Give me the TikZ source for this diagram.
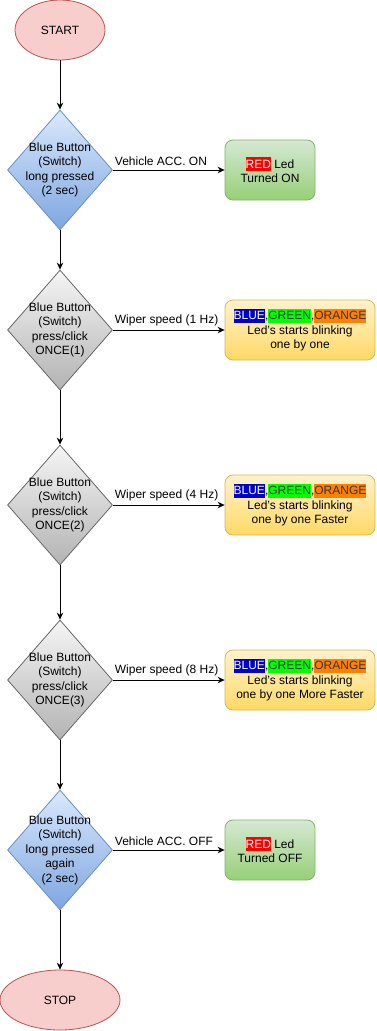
\documentclass[tikz,border=0pt]{standalone}
\usepackage{fontspec}
\setmainfont{Liberation Sans}
\usetikzlibrary{shapes.geometric,arrows.meta}
\definecolor{termfill}{HTML}{F8CECC}
\definecolor{termline}{HTML}{B85450}
\definecolor{bluetop}{HTML}{DAE8FC}
\definecolor{bluebot}{HTML}{7EA6E0}
\definecolor{blueline}{HTML}{6C8EBF}
\definecolor{graytop}{HTML}{F5F5F5}
\definecolor{graybot}{HTML}{B3B3B3}
\definecolor{grayline}{HTML}{666666}
\definecolor{greentop}{HTML}{D5E8D4}
\definecolor{greenbot}{HTML}{97D077}
\definecolor{greenline}{HTML}{82B366}
\definecolor{yellowtop}{HTML}{FFF2CC}
\definecolor{yellowbot}{HTML}{FFD966}
\definecolor{yellowline}{HTML}{D6B656}
\definecolor{hlred}{HTML}{FF0000}
\definecolor{hlblue}{HTML}{0000CC}
\definecolor{hlgreen}{HTML}{00FF00}
\definecolor{hlorange}{HTML}{FF8000}
\newcommand{\hl}[3]{{\setlength{\fboxsep}{0pt}\colorbox{#1}{\rule[-3pt]{0pt}{14pt}\textcolor{#2}{#3}}}}
\newcommand{\leds}{\hl{hlblue}{white}{BLUE},\hl{hlgreen}{black!80}{GREEN},\hl{hlorange}{black!80}{ORANGE}}
\begin{document}
\begin{tikzpicture}[x=1pt,y=-1pt,font=\fontsize{12}{14.5}\selectfont,line width=0.8pt,
  >={Stealth[length=7pt,width=6.5pt]},
  term/.style={ellipse,draw=termline,fill=termfill,minimum height=60pt,inner sep=0pt},
  bluecond/.style={diamond,draw=blueline,top color=bluetop,bottom color=bluebot,minimum width=105pt,minimum height=120pt,inner sep=0pt},
  graycond/.style={diamond,draw=grayline,top color=graytop,bottom color=graybot,minimum width=105pt,minimum height=120pt,inner sep=0pt},
  greenbox/.style={rectangle,rounded corners=8pt,draw=greenline,top color=greentop,bottom color=greenbot,minimum width=90pt,minimum height=60pt,align=center},
  yellowbox/.style={rectangle,rounded corners=8pt,draw=yellowline,top color=yellowtop,bottom color=yellowbot,minimum width=150pt,minimum height=60pt,align=center,inner sep=0pt},
  txt/.style={align=center,inner sep=0pt},
  lbl/.style={pos=0,anchor=south west,inner sep=0pt,xshift=1.5pt,yshift=4pt}]
\useasboundingbox (0,0) rectangle (376,1031);

\node[term,minimum width=90pt] (0) at (60,30) {START};

\node[bluecond] (1) at (60,170) {};
\node[txt] (1t) at (1) {Blue Button\\(Switch)\\long pressed\\(2 sec)};
\node[greenbox] (6) at (270,170) {\hl{hlred}{white}{RED} Led\\Turned ON};

\node[graycond] (2) at (60,330) {};
\node[txt] (2t) at (2) {Blue Button\\(Switch)\\press/click\\ONCE(1)};
\node[yellowbox] (7) at (300,330) {\leds\\Led's starts blinking\\one by one};

\node[graycond] (3) at (60,505) {};
\node[txt] (3t) at (3) {Blue Button\\(Switch)\\press/click\\ONCE(2)};
\node[yellowbox] (8) at (300,505) {\leds\\Led's starts blinking\\one by one Faster};

\node[graycond] (4) at (60,680) {};
\node[txt] (4t) at (4) {Blue Button\\(Switch)\\press/click\\ONCE(3)};
\node[yellowbox] (9) at (300,680) {\leds\\Led's starts blinking\\one by one More Faster};

\node[bluecond] (5) at (60,850) {};
\node[txt] (5t) at (5) {Blue Button\\(Switch)\\long pressed\\again\\(2 sec)};
\node[greenbox] (10) at (270,850) {\hl{hlred}{white}{RED} Led\\Turned OFF};

\node[term,minimum width=120pt] (11) at (60,1000) {STOP};

\draw[->,line width=1pt] (0)--(1);
\draw[->,line width=1pt] (1)--(2);
\draw[->,line width=1pt] (2)--(3);
\draw[->,line width=1pt] (3)--(4);
\draw[->,line width=1pt] (4)--(5);
\draw[->,line width=1pt] (5)--(11);

\draw[->,line width=1pt] (1)-- node[lbl]{Vehicle ACC. ON} (6);
\draw[->,line width=1pt] (2)-- node[lbl]{Wiper speed (1 Hz)} (7);
\draw[->,line width=1pt] (3)-- node[lbl]{Wiper speed (4 Hz)} (8);
\draw[->,line width=1pt] (4)-- node[lbl]{Wiper speed (8 Hz)} (9);
\draw[->,line width=1pt] (5)-- node[lbl]{Vehicle ACC. OFF} (10);
\end{tikzpicture}
\end{document}
